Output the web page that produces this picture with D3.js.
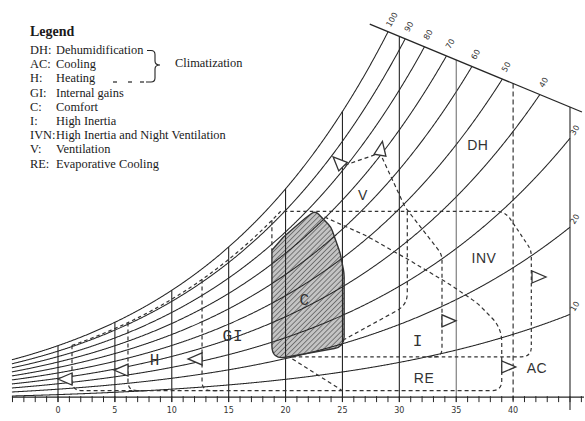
<!DOCTYPE html>
<html><head><meta charset="utf-8">
<script src="https://cdn.jsdelivr.net/npm/d3@7"></script>
<style>body{margin:0;background:#fff}svg{display:block}</style>
</head><body>
<script>
// ---------------- data (temperature °C, humidity ratio g/kg) ----------------
const tempLines   = [0,5,10,15,20,25,30,35,40,45];
const tempDashed  = [40];
const tempTicks   = [0,5,10,15,20,25,30,35,40];
const rhLevels    = [100,90,80,70,60,50,40,30,20,10];
const rhLabels    = ["100","90","80","70","60","50","40","30","20","10"];
const topLine     = [[27.4,26.1],[46.05,20.0]];
const envelopeRH  = 92;          // dashed upper limit of H / GI zones (%RH)
const envelopeTop = 13.1;        // dashed horizontal limit (g/kg)
const bottomW     = 0.65;        // dashed lower limit (g/kg)
const heatLimits  = [1.23, 6.15, 12.66];
const giRight     = 18.8;
const comfortZone = [[18.8,10.4,0],[19.8,11.3],[20.8,12.0],[21.7,12.6],[22.6,13.15,5],[24.0,12.0,4],[24.8,10.2,4],[25.15,8.8,4],[25.15,3.7,10],[18.8,2.8,14]];
const invZone     = [[39.3,13.1,9],[41.6,10.4,6],[41.6,3.0,10],[20.4,3.0,0]];
const reZone      = [[39.0,5.0,14],[36.9,6.7,6],[34.5,8.0,6],[30.9,9.7,6],[27.1,11.4,6],[23.3,12.75,0]];
const reLower     = [[20.6,2.85],[25.0,0.65]];
const vZone       = [[25.2,16.3,0],[28.3,17.15,2],[30.5,13.4,3],[33.75,10.1,6],[33.75,3.0,9],[32.5,3.0,0]];
const vLower      = [[30.7,13.1,0],[30.7,6.6,12],[25.15,4.2,0]];
const arrows      = [
  {t:1.23,w:1.46,a:180},{t:6.15,w:2.08,a:180},{t:12.66,w:2.85,a:180},
  {t:25.05,w:16.2,a:-135},{t:28.3,w:17.0,a:-80},
  {t:33.75,w:5.5,a:0},{t:41.66,w:8.54,a:0},{t:39.0,w:2.3,a:0}];
const zoneLabels  = [
  {txt:"DH",t:36.9,w:17.36,mono:false},{txt:"V",t:26.8,w:13.9,mono:false},
  {txt:"INV",t:37.44,w:9.51,mono:false},{txt:"C",t:21.7,w:6.6,mono:true},
  {txt:"GI",t:15.38,w:4.1,mono:true},{txt:"H",t:8.53,w:2.43,mono:true},
  {txt:"I",t:31.64,w:3.75,mono:true},{txt:"RE",t:32.17,w:1.18,mono:false},
  {txt:"AC",t:42.1,w:1.875,mono:false}];
const legendKeys  = ["DH:","AC:","H:","GI:","C:","I:","IVN:","V:","RE:"];
const legendNames = ["Dehumidification","Cooling","Heating","Internal gains","Comfort","High Inertia","High Inertia and Night Ventilation","Ventilation","Evaporative Cooling"];

// ---------------- scales ----------------
const W=585,H=421;
const x = d3.scaleLinear().domain([0,45]).range([58,570]);
const y = d3.scaleLinear().domain([0,25]).range([400,40]);
const tMin = -4.05, tMax = 45, axisW = 0.2;
const psat = t => 0.61094*Math.exp(17.625*t/(t+243.04));
const wOf = (t,rh) => { const pw = rh/100*psat(t); return 622*pw/(101.325-pw); };

const svg = d3.select("body").append("svg").attr("width",W).attr("height",H);
svg.append("rect").attr("width",W).attr("height",H).attr("fill","#fff");

const P = d => [x(d[0]), y(d[1]), d[2]];
const d0 = P(topLine[0]), d1 = P(topLine[1]);
const diagY = X => d0[1] + (X-d0[0])*(d1[1]-d0[1])/(d1[0]-d0[0]);

function roundedPath(pts, r0, closed){
  const n=pts.length; const get=i=>pts[(i+n)%n];
  let d = closed ? "" : `M${pts[0][0]},${pts[0][1]}`;
  const s0 = closed?0:1, e0 = closed?n:n-1; let first=true;
  for(let i=s0;i<e0;i++){
    const p=get(i), a=get(i-1), b=get(i+1);
    const r = (p[2]!=null)?p[2]:r0;
    const l1=Math.hypot(p[0]-a[0],p[1]-a[1])||1, l2=Math.hypot(b[0]-p[0],b[1]-p[1])||1;
    const r1=Math.min(r,l1/2), r2=Math.min(r,l2/2);
    const s=[p[0]-(p[0]-a[0])/l1*r1, p[1]-(p[1]-a[1])/l1*r1];
    const e=[p[0]+(b[0]-p[0])/l2*r2, p[1]+(b[1]-p[1])/l2*r2];
    if(closed&&first){d+=`M${s[0]},${s[1]}`;first=false;} else d+=`L${s[0]},${s[1]}`;
    d+=`Q${p[0]},${p[1]} ${e[0]},${e[1]}`;
  }
  d += closed ? "Z" : `L${pts[n-1][0]},${pts[n-1][1]}`;
  return d;
}
function rhPoints(rh, t0, t1, wStop){
  const out=[];
  for(let t=t0;t<=t1+1e-9;t+=0.1){
    const w=wOf(t,rh);
    if(wStop!=null && w>=wStop){ out.push([t,wStop,0]); break; }
    out.push([t,w,0]);
  }
  return out;
}

// ---------------- hatch pattern ----------------
const defs = svg.append("defs");
const pat = defs.append("pattern").attr("id","hatch").attr("patternUnits","userSpaceOnUse")
  .attr("width",3.6).attr("height",3.6).attr("patternTransform","rotate(45)");
pat.append("rect").attr("width",3.6).attr("height",3.6).attr("fill","#c4c4c4");
pat.append("line").attr("x1",0).attr("y1",0).attr("x2",0).attr("y2",3.6).attr("stroke","#4a4a4a").attr("stroke-width",1.3);

const comfortPath = roundedPath(comfortZone.map(P), 0, true);
svg.append("path").attr("d",comfortPath).attr("fill","url(#hatch)");

// ---------------- grid ----------------
const ink = "#262626";
const axisY = y(axisW);
const g = svg.append("g").attr("fill","none").attr("stroke",ink);

// RH curves
rhLevels.forEach((rh,i)=>{
  const pts=[]; let prev=null;
  for(let t=tMin;t<=tMax+1e-9;t+=0.05){
    const X=x(t), Y=Math.min(y(wOf(t,rh)), axisY-0.5);
    if(X>=d0[0] && Y<=diagY(X)){
      if(prev){ const f=(prev[1]-diagY(prev[0]))/((prev[1]-diagY(prev[0]))-(Y-diagY(X)));
        const Xi=prev[0]+f*(X-prev[0]); pts.push([Xi,diagY(Xi)]); }
      break;
    }
    pts.push([X,Y]); prev=[X,Y];
  }
  g.append("path").attr("d",d3.line()(pts)).attr("stroke-width",1.05);
  const end=pts[pts.length-1];
  const onDiag = Math.abs(end[1]-diagY(end[0]))<1;
  const lx = end[0] + (onDiag?4:5), ly = end[1] - (onDiag?12:8);
  svg.append("text").attr("x",lx).attr("y",ly).attr("transform",`rotate(-60,${lx},${ly})`)
    .attr("text-anchor","middle").attr("dominant-baseline","middle")
    .attr("font-family","DejaVu Sans").attr("font-size",8).attr("fill","#333").text(rhLabels[i]);
});

// vertical temperature lines
tempLines.forEach(t=>{
  const X=x(t);
  const top=Math.max(y(wOf(t,100)), diagY(X));
  g.append("line").attr("x1",X).attr("x2",X).attr("y1",top).attr("y2",t===45?410:402)
    .attr("stroke-width",t===35?0.9:1.1).attr("stroke",t===35?"#555":ink)
    .attr("stroke-dasharray",tempDashed.includes(t)?"5,3":null);
});
// top diagonal line
g.append("line").attr("x1",d0[0]).attr("y1",d0[1]).attr("x2",d1[0]).attr("y2",d1[1]).attr("stroke-width",1.3);

// axis
g.append("line").attr("x1",x(tMin)).attr("x2",584).attr("y1",axisY).attr("y2",axisY).attr("stroke-width",1.4);
d3.range(-4,47).forEach(t=>{ if(x(t)<=583) g.append("line").attr("x1",x(t)).attr("x2",x(t)).attr("y1",axisY-1).attr("y2",axisY+5).attr("stroke-width",1); });
tempTicks.forEach(t=>{
  svg.append("text").attr("x",x(t)).attr("y",413).attr("text-anchor","middle")
    .attr("font-family","DejaVu Sans").attr("font-size",8).attr("fill","#333").text(t);
});

// comfort outline
svg.append("path").attr("d",comfortPath).attr("fill","none").attr("stroke","#333").attr("stroke-width",1.4);

// ---------------- dashed zones ----------------
const z = svg.append("g").attr("fill","none").attr("stroke","#333").attr("stroke-width",1.2).attr("stroke-dasharray","4,3");
const envPts = rhPoints(envelopeRH, heatLimits[0], 25, envelopeTop);
z.append("path").attr("d",roundedPath(envPts.concat(invZone).map(P),0,false)).attr("stroke-dasharray","3.5,3");
// outer heating limit + bottom + RE
const reFull = [[heatLimits[0],wOf(heatLimits[0],envelopeRH),0],[heatLimits[0],bottomW,10],[39.0,bottomW,10]].concat(reZone);
z.append("path").attr("d",roundedPath(reFull.map(P),0,false));
heatLimits.slice(1).forEach(t=>{
  z.append("path").attr("d",roundedPath([[t,wOf(t,envelopeRH),0],[t,bottomW,9],[t+1.6,bottomW,0]].map(P),0,false));
});
z.append("path").attr("d",roundedPath([[giRight,wOf(giRight,envelopeRH),0],[giRight,comfortZone[0][1],0]].map(P),0,false));
z.append("path").attr("d",roundedPath(reLower.map(P),0,false));
z.append("path").attr("d",roundedPath(vZone.map(P),0,false));
z.append("path").attr("d",roundedPath(vLower.map(P),0,false));

// arrows
arrows.forEach(a=>{
  const bx=x(a.t), by=y(a.w), r=a.a*Math.PI/180;
  const ux=Math.cos(r), uy=Math.sin(r), nx=-uy, ny=ux;
  const tip=[bx+ux*14, by+uy*14], b1=[bx+nx*6,by+ny*6], b2=[bx-nx*6,by-ny*6];
  svg.append("path").attr("d",`M${b1}L${tip}L${b2}Z`).attr("fill","#fff").attr("stroke","#333").attr("stroke-width",1.3);
});

// zone labels
zoneLabels.forEach(l=>{
  svg.append("text").attr("x",x(l.t)).attr("y",y(l.w)).attr("text-anchor","middle")
    .attr("font-family",l.mono?"Liberation Mono":"Liberation Sans")
    .attr("font-size",l.mono?16:14).attr("letter-spacing",l.mono?1:0.5)
    .attr("fill","#333").text(l.txt);
});

// ---------------- legend ----------------
const lg = svg.append("g").attr("font-family","Liberation Serif").attr("fill","#1a1a1a");
lg.append("text").attr("x",30).attr("y",36).attr("font-size",14).attr("font-weight","bold").text("Legend");
legendKeys.forEach((k,i)=>{
  const yy=54+i*14.2;
  const kt = lg.append("text").attr("x",30).attr("y",yy).attr("font-size",12.4).text(k);
  const kw = kt.node().getComputedTextLength();
  lg.append("text").attr("x",Math.max(56,30+kw+0.5)).attr("y",yy).attr("font-size",12.4).text(legendNames[i]);
});
lg.append("text").attr("x",175).attr("y",67).attr("font-size",12.4).text("Climatization");
svg.append("path").attr("d","M147,50.5L151,50.5Q155,50.5 155,54.5L155,61Q155,65 160,65Q155,65 155,69L155,78Q155,82 151,82L146,82")
  .attr("fill","none").attr("stroke","#222").attr("stroke-width",1.1);
[[113,117],[128,132],[140,144]].forEach(s=>svg.append("line").attr("x1",s[0]).attr("x2",s[1]).attr("y1",82).attr("y2",82).attr("stroke","#222").attr("stroke-width",1.2));
</script>
</body></html>
